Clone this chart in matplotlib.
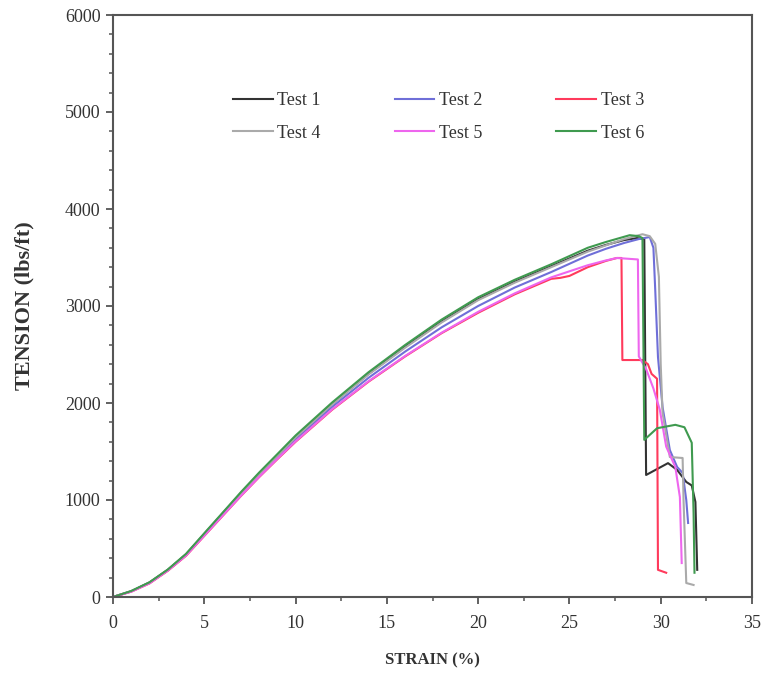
import matplotlib
matplotlib.use("Agg")
import matplotlib.pyplot as plt
from matplotlib.ticker import MultipleLocator

plt.rcParams["font.family"] = ["Liberation Serif", "DejaVu Serif"]

W, H = 762, 679
DPI = 100

# strain (%) / tension (lbs/ft)
strain_1 = [0, 1, 2, 3, 4, 5, 6, 7, 8, 9, 10, 12, 14, 16, 18, 20, 22, 24, 25, 26, 27, 28,
            28.7, 29.1, 29.2, 30.4, 30.9, 31.4, 31.7, 31.9, 32.0]
tension_1 = [0, 60, 150, 280, 440, 650, 860, 1070, 1270, 1460, 1650, 1990, 2300, 2580, 2840,
             3070, 3250, 3410, 3490, 3570, 3630, 3680, 3700, 3690, 1258, 1380, 1310, 1186,
             1150, 980, 280]

strain_2 = [0, 1, 2, 3, 4, 5, 6, 7, 8, 9, 10, 12, 14, 16, 18, 20, 22, 24, 26, 27, 28, 28.8,
            29.4, 29.6, 29.7, 29.85, 30.1, 30.5, 30.9, 31.2, 31.4, 31.5]
tension_2 = [0, 58, 145, 275, 432, 640, 848, 1055, 1252, 1440, 1625, 1960, 2260, 2530, 2780,
             3000, 3190, 3350, 3520, 3590, 3650, 3690, 3711, 3600, 3165, 2474, 1960, 1515,
             1340, 1280, 1000, 763]

strain_3 = [0, 1, 2, 3, 4, 5, 6, 7, 8, 9, 10, 12, 14, 16, 18, 20, 22, 24, 24.5, 25, 26, 27,
            27.6, 27.85, 27.9, 29.0, 29.3, 29.5, 29.8, 29.85, 30.3]
tension_3 = [0, 55, 140, 270, 425, 630, 835, 1040, 1235, 1420, 1600, 1930, 2220, 2480, 2720,
             2930, 3120, 3280, 3290, 3310, 3400, 3465, 3495, 3495, 2443, 2443, 2400, 2300,
             2250, 280, 250]

strain_4 = [0, 1, 2, 3, 4, 5, 6, 7, 8, 9, 10, 12, 14, 16, 18, 20, 22, 24, 26, 28, 29.0,
            29.4, 29.7, 29.9, 30.0, 30.1, 30.5, 31.2, 31.25, 31.4, 31.8]
tension_4 = [0, 60, 148, 278, 438, 645, 855, 1065, 1265, 1455, 1645, 1985, 2295, 2570, 2830,
             3060, 3240, 3400, 3560, 3690, 3740, 3720, 3640, 3300, 2400, 1900, 1443, 1433,
             1000, 144, 124]

strain_5 = [0, 1, 2, 3, 4, 5, 6, 7, 8, 9, 10, 12, 14, 16, 18, 20, 22, 24, 26, 27, 27.6,
            28.75, 28.8, 29.2, 29.6, 29.95, 30.3, 30.8, 31.05, 31.15]
tension_5 = [0, 55, 142, 272, 428, 633, 838, 1043, 1238, 1425, 1605, 1935, 2225, 2485, 2725,
             2940, 3130, 3295, 3420, 3470, 3495, 3480, 2480, 2350, 2150, 1930, 1550, 1340,
             1030, 350]

strain_6 = [0, 1, 2, 3, 4, 5, 6, 7, 8, 9, 10, 12, 14, 16, 18, 20, 22, 24, 26, 27, 28.3, 28.8,
            29.0, 29.1, 29.8, 30.8, 31.3, 31.7, 31.8, 31.85]
tension_6 = [0, 62, 152, 283, 445, 657, 868, 1080, 1282, 1473, 1665, 2005, 2318, 2598, 2860,
             3090, 3270, 3430, 3600, 3660, 3730, 3720, 3700, 1620, 1740, 1775, 1750, 1590,
             866, 250]

labels = ["Test 1", "Test 2", "Test 3", "Test 4", "Test 5", "Test 6"]
colors = ["#333333", "#6f6fd8", "#ff3a5c", "#aaaaaa", "#ee66ee", "#3f9a4f"]
series = [(strain_1, tension_1), (strain_2, tension_2), (strain_3, tension_3),
          (strain_4, tension_4), (strain_5, tension_5), (strain_6, tension_6)]

x_ticks = [0, 5, 10, 15, 20, 25, 30, 35]
y_ticks = [0, 1000, 2000, 3000, 4000, 5000, 6000]


def draw_chart(path: str = "out.png"):
    fig = plt.figure(figsize=(W / DPI, H / DPI), dpi=DPI)
    ax = fig.add_axes([113 / W, 1 - 597 / H, (752 - 113) / W, (597 - 15) / H])

    lines = []
    for (xs, ys), label, color in zip(series, labels, colors):
        lines += ax.plot(xs, ys, color=color, linewidth=1.5, label=label)

    ax.set_xlim(0, 35)
    ax.set_ylim(0, 6000)
    ax.set_xticks(x_ticks)
    ax.set_yticks(y_ticks)
    ax.xaxis.set_minor_locator(MultipleLocator(2.5))
    ax.yaxis.set_minor_locator(MultipleLocator(200))

    for side in ax.spines.values():
        side.set_color("#555555")
        side.set_linewidth(1.5)
    ax.tick_params(which="major", direction="out", length=5, width=1.3, color="#555555",
                   labelsize=13, labelcolor="#333333")
    ax.tick_params(which="minor", direction="out", length=3, width=1.1, color="#555555")
    ax.tick_params(axis="x", which="major", pad=8)
    ax.tick_params(axis="y", which="major", pad=4)

    ax.set_xlabel("STRAIN (%)", fontsize=12, fontweight="bold", color="#333333", labelpad=15)
    ax.set_ylabel("TENSION (lbs/ft)", fontsize=16, fontweight="bold", color="#333333",
                  labelpad=22)

    # legend fills row by row in the reference: Test 1-3 on top, 4-6 below
    order = [0, 3, 1, 4, 2, 5]
    ax.legend([lines[i] for i in order], [labels[i] for i in order],
              loc="upper left", bbox_to_anchor=(233 / W, 1 - 92 / H),
              bbox_transform=fig.transFigure, ncol=3, frameon=False, fontsize=13,
              handlelength=2.2, handletextpad=0.25, columnspacing=4.1, labelspacing=0.86,
              labelcolor="#333333", borderaxespad=0, borderpad=0)

    fig.savefig(path, dpi=DPI)
    plt.close(fig)


if __name__ == "__main__":
    draw_chart()
